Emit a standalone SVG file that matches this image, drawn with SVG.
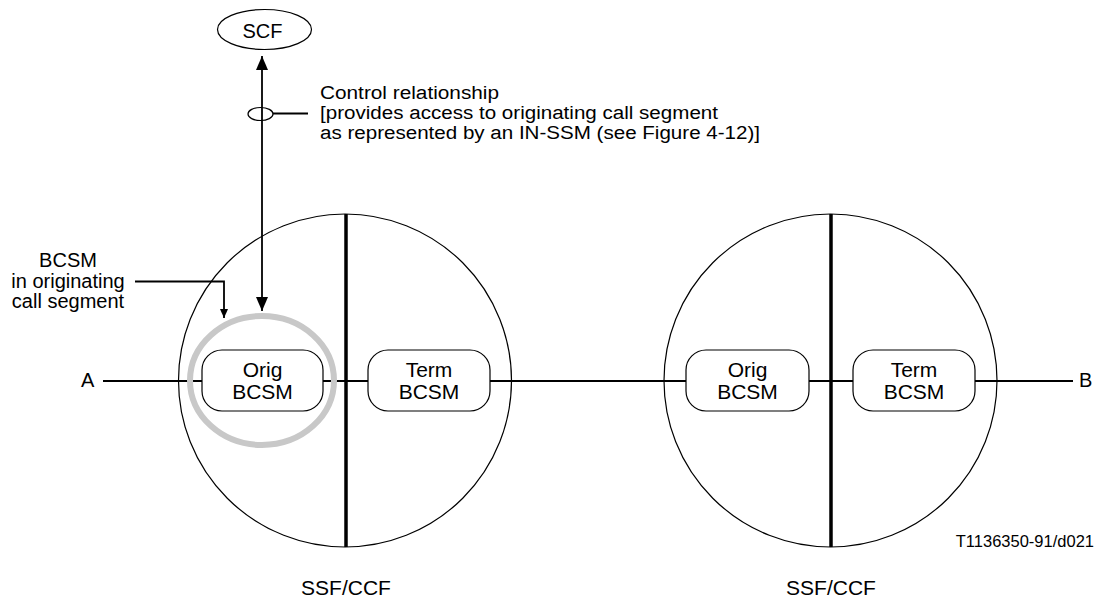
<svg xmlns="http://www.w3.org/2000/svg" width="1101" height="601" viewBox="0 0 1101 601">
  <defs>
    <!-- arrowheads drawn along +x so orient="auto" follows the line -->
    <marker id="arrowBig" markerWidth="14" markerHeight="12" refX="14" refY="6" orient="auto-start-reverse" markerUnits="userSpaceOnUse" viewBox="0 0 14 12">
      <path d="M0,0 L14,6 L0,12 Z" fill="#000"/>
    </marker>
    <marker id="arrowSmall" markerWidth="9" markerHeight="8" refX="9" refY="4" orient="auto" markerUnits="userSpaceOnUse" viewBox="0 0 9 8">
      <path d="M0,0 L9,4 L0,8 Z" fill="#000"/>
    </marker>
    <style>
      text { font-family: "Liberation Sans", Arial, sans-serif; fill: #000; }
      .lbl { font-size: 20px; }
      .note { font-size: 18px; }
      .box-text { font-size: 21px; text-anchor: middle; }
      .box { fill: #fff; stroke: #000; stroke-width: 1.2; }
      .ring { fill: none; stroke: #000; stroke-width: 1.2; }
      .divider { stroke: #000; stroke-width: 3.5; }
      .wire { stroke: #000; stroke-width: 1.8; fill: none; }
    </style>
  </defs>

  <rect width="1101" height="601" fill="#fff"/>

  <!-- SSF/CCF circles with dividers -->
  <g id="ssf-ccf-1">
    <circle class="ring" cx="345" cy="380.5" r="166.5"/>
    <line class="divider" x1="346" y1="214" x2="346" y2="547"/>
    <text class="lbl" x="346" y="595" text-anchor="middle" style="font-size:21px">SSF/CCF</text>
  </g>
  <g id="ssf-ccf-2">
    <circle class="ring" cx="830.5" cy="380.5" r="166.5"/>
    <line class="divider" x1="831" y1="214" x2="831" y2="547"/>
    <text class="lbl" x="831" y="595" text-anchor="middle" style="font-size:21px">SSF/CCF</text>
  </g>

  <!-- connectors -->
  <g id="connectors">
    <line class="wire" x1="103" y1="381" x2="1073" y2="381"/>
    <!-- SCF control relationship -->
    <line class="wire" x1="262" y1="56" x2="262" y2="311" stroke-width="2" marker-start="url(#arrowBig)" marker-end="url(#arrowBig)"/>
    <ellipse cx="260.5" cy="114" rx="12.5" ry="6.5" fill="none" stroke="#000" stroke-width="1.2"/>
    <line class="wire" x1="273" y1="113.5" x2="308" y2="113.5"/>
    <!-- BCSM callout -->
    <polyline class="wire" points="135,281.5 224,281.5 224,318" marker-end="url(#arrowSmall)"/>
  </g>

  <!-- highlighted originating call segment -->
  <ellipse id="ocs-highlight" cx="262" cy="380.5" rx="72" ry="64.5" fill="none" stroke="#c8c8c8" stroke-width="6"/>

  <g id="orig-bcsm-1">
    <rect class="box" x="202" y="350" width="121" height="61" rx="20" ry="20"/>
    <text class="box-text" x="262.5" y="377">Orig</text>
    <text class="box-text" x="262.5" y="399">BCSM</text>
  </g>
  <g id="term-bcsm-1">
    <rect class="box" x="368" y="350" width="122" height="61" rx="20" ry="20"/>
    <text class="box-text" x="429" y="377">Term</text>
    <text class="box-text" x="429" y="399">BCSM</text>
  </g>
  <g id="orig-bcsm-2">
    <rect class="box" x="686" y="350" width="123" height="61" rx="20" ry="20"/>
    <text class="box-text" x="747.5" y="377">Orig</text>
    <text class="box-text" x="747.5" y="399">BCSM</text>
  </g>
  <g id="term-bcsm-2">
    <rect class="box" x="853" y="350" width="122" height="61" rx="20" ry="20"/>
    <text class="box-text" x="914" y="377">Term</text>
    <text class="box-text" x="914" y="399">BCSM</text>
  </g>

  <g id="scf">
    <ellipse cx="264.5" cy="29.5" rx="47" ry="20" fill="#fff" stroke="#000" stroke-width="1.2"/>
    <text class="lbl" x="262.5" y="38" text-anchor="middle">SCF</text>
  </g>

  <g id="control-note">
    <text class="note" x="320" y="98.5" textLength="179" lengthAdjust="spacingAndGlyphs">Control relationship</text>
    <text class="note" x="320" y="118.7" textLength="398" lengthAdjust="spacingAndGlyphs">[provides access to originating call segment</text>
    <text class="note" x="320" y="138.9" textLength="440" lengthAdjust="spacingAndGlyphs">as represented by an IN-SSM (see Figure 4-12)]</text>
  </g>

  <g id="bcsm-note">
    <text class="lbl" x="68" y="267" text-anchor="middle">BCSM</text>
    <text class="lbl" x="68" y="288" text-anchor="middle">in originating</text>
    <text class="lbl" x="68" y="308" text-anchor="middle">call segment</text>
  </g>

  <g id="end-a">
    <text class="lbl" x="81" y="387">A</text>
  </g>
  <g id="end-b">
    <text class="lbl" x="1079" y="387">B</text>
  </g>

  <text x="1094" y="547" text-anchor="end" style="font-size:16.5px">T1136350-91/d021</text>
</svg>
